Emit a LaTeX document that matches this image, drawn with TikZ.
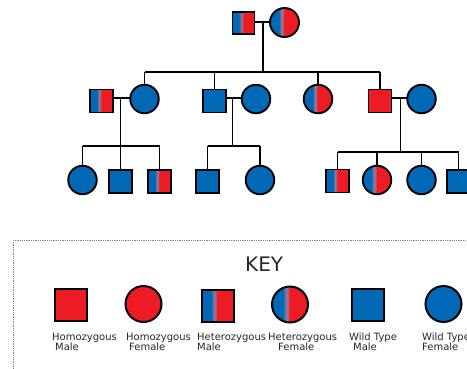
\documentclass[tikz,border=0pt]{standalone}
\usepackage{fontspec}
\setmainfont{DejaVu Sans}
\definecolor{homred}{RGB}{237,28,36}
\definecolor{wtblue}{RGB}{0,104,180}
\definecolor{midtone}{RGB}{150,125,160}
% blue on the left, red on the right (visible part of the shading is 25bp..75bp)
\pgfdeclarehorizontalshading{hetshade}{100bp}{color(0bp)=(wtblue); color(40bp)=(wtblue); color(45bp)=(midtone); color(50bp)=(homred); color(100bp)=(homred)}
\tikzset{
  person/.style={draw=black, line width=1.9pt, inner sep=0pt, outer sep=0pt},
  male/.style={person, rectangle, minimum size=23pt},
  female/.style={person, circle, minimum size=28.5pt},
  kmale/.style={person, rectangle, minimum size=32pt, line width=2pt},
  kfemale/.style={person, circle, minimum size=36pt, line width=2pt},
  hom/.style={fill=homred},
  wt/.style={fill=wtblue},
  het/.style={shading=hetshade},
  link/.style={draw=black, line width=1.3pt},
  lbl/.style={font=\fontsize{10}{11}\selectfont, inner sep=0pt, anchor=base west, text=black!85},
}
\begin{document}
\begin{tikzpicture}[x=1pt, y=-1pt]
\useasboundingbox (0,0) rectangle (467,368);

% generation I
\node[male, het, minimum size=22pt] (p1) at (243.5,23) {};
\node[female, het, minimum size=29pt] (p2) at (284.5,22.5) {};
\coordinate (m1) at (263,22);
\coordinate (s1) at (263,72);

% generation II
\node[male, het] (a) at (101.5,101) {};
\node[female, wt] (b) at (144.5,99) {};
\node[male, wt] (c) at (214.5,101) {};
\node[female, wt] (d) at (256,99) {};
\node[female, het] (e) at (318,99) {};
\node[male, hom] (f) at (380,101) {};
\node[female, wt] (g) at (421.5,99) {};
\coordinate (mab) at (120.7,98);
\coordinate (mcd) at (232.7,98);
\coordinate (mfg) at (400.7,98);
\coordinate (sab) at (120.7,146);
\coordinate (scd) at (232.7,146);
\coordinate (sfg) at (400.7,152);

% generation III
\node[female, wt] (h) at (82.5,180) {};
\node[male, wt] (i) at (120.7,181.5) {};
\node[male, het] (j) at (159.5,181.5) {};
\node[male, wt] (k) at (207.5,181.5) {};
\node[female, wt] (l) at (260,180) {};
\node[male, het] (m) at (337.5,181) {};
\node[female, het] (n) at (377,180) {};
\node[female, wt] (o) at (421.5,180) {};
\node[male, wt] (q) at (458.5,181.5) {};

% couples and descent lines
\draw[link] (p1.east |- m1) -- (p2.west |- m1);
\draw[link] (m1) -- (s1);
\draw[link] (b.north |- s1) -- (f.north |- s1);
\foreach \x in {b,c,e,f} \draw[link] (\x.north) -- (\x.north |- s1);

\draw[link] (a.east |- mab) -- (b.west |- mab);
\draw[link] (c.east |- mcd) -- (d.west |- mcd);
\draw[link] (f.east |- mfg) -- (g.west |- mfg);

\draw[link] (mab) -- (i.north);
\draw[link] (h.north |- sab) -- (j.north |- sab);
\foreach \x in {h,j} \draw[link] (\x.north) -- (\x.north |- sab);

\draw[link] (mcd) -- (scd);
\draw[link] (k.north |- scd) -- (l.north |- scd);
\foreach \x in {k,l} \draw[link] (\x.north) -- (\x.north |- scd);

\draw[link] (mfg) -- (sfg);
\draw[link] (m.north |- sfg) -- (q.north |- sfg);
\foreach \x in {m,n,o,q} \draw[link] (\x.north) -- (\x.north |- sfg);

% key
\draw[draw=gray, densely dotted, line width=0.8pt] (13,240) rectangle (480,380);
\node[inner sep=0pt, anchor=base west, font=\fontsize{20}{22}\selectfont, text=black!85] (keytitle) at (245,271) {KEY};

\node[kmale, hom] (k1) at (70.5,305) {};
\node[kfemale, hom] (k2) at (143.5,304) {};
\node[kmale, het] (k3) at (217.5,305.5) {};
\node[kfemale, het] (k4) at (290,304.5) {};
\node[kmale, wt] (k5) at (367.5,305) {};
\node[kfemale, wt] (k6) at (443.5,304) {};

\node[lbl] (l1a) at (52,340) {Homozygous};
\node[lbl] (l1b) at (55,350.5) {Male};
\node[lbl] (l2a) at (126,340) {Homozygous};
\node[lbl] (l2b) at (129,350.5) {Female};
\node[lbl] (l3a) at (197,340) {Heterozygous};
\node[lbl] (l3b) at (197,350.5) {Male};
\node[lbl] (l4a) at (268,340) {Heterozygous};
\node[lbl] (l4b) at (278,350.5) {Female};
\node[lbl] (l5a) at (349,340) {Wild Type};
\node[lbl] (l5b) at (353,350.5) {Male};
\node[lbl] (l6a) at (422,340) {Wild Type};
\node[lbl] (l6b) at (422,350.5) {Female};
\end{tikzpicture}
\end{document}
